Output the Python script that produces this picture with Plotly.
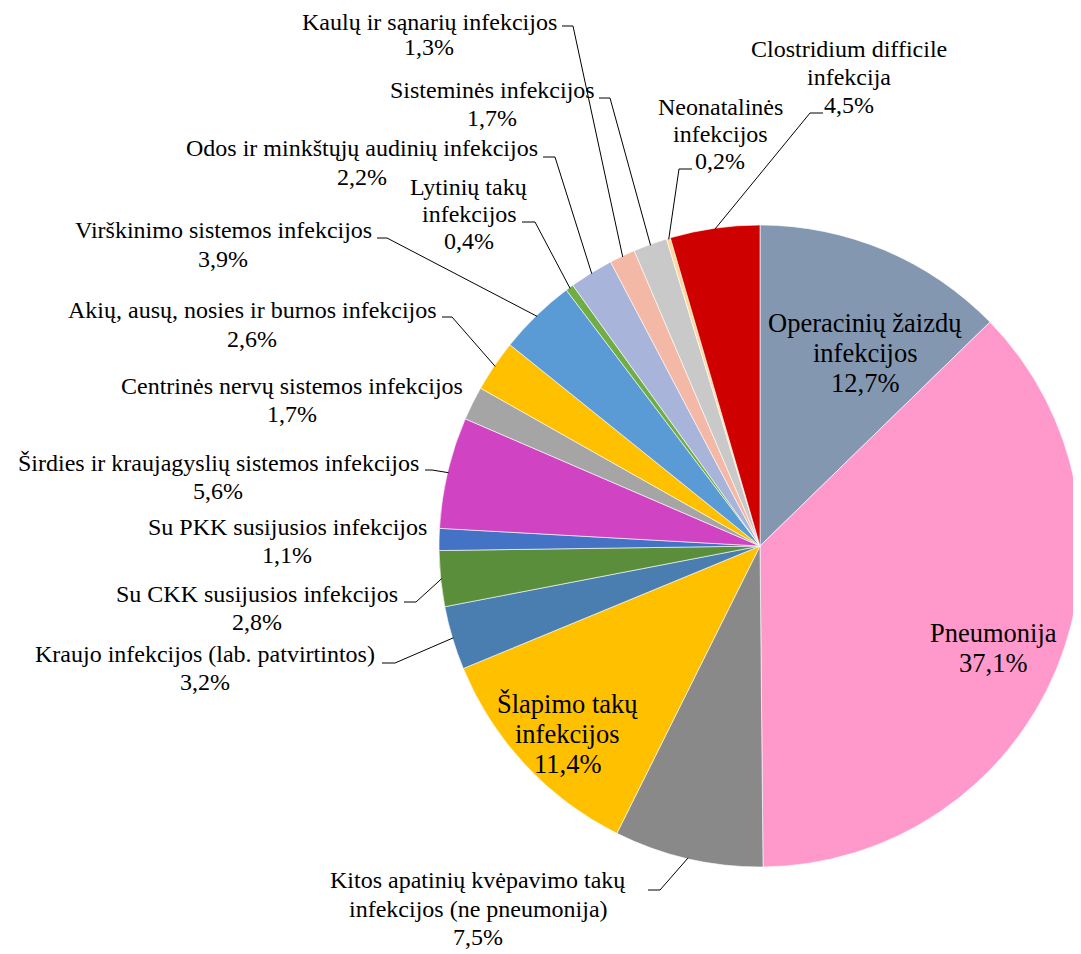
import math
import plotly.graph_objects as go

# page has an 8px body margin; figure is placed at (8, 8)
OFF = 8
W, H = 1081 - OFF, 954 - OFF

# ---------------- data ----------------
categories = [
    "Operacinių žaizdų infekcijos",
    "Pneumonija",
    "Kitos apatinių kvėpavimo takų infekcijos (ne pneumonija)",
    "Šlapimo takų infekcijos",
    "Kraujo infekcijos (lab. patvirtintos)",
    "Su CKK susijusios infekcijos",
    "Su PKK susijusios infekcijos",
    "Širdies ir kraujagyslių sistemos infekcijos",
    "Centrinės nervų sistemos infekcijos",
    "Akių, ausų, nosies ir burnos infekcijos",
    "Virškinimo sistemos infekcijos",
    "Lytinių takų infekcijos",
    "Odos ir minkštųjų audinių infekcijos",
    "Kaulų ir sąnarių infekcijos",
    "Sisteminės infekcijos",
    "Neonatalinės infekcijos",
    "Clostridium difficile infekcija",
]
values = [12.7, 37.1, 7.5, 11.4, 3.2, 2.8, 1.1, 5.6, 1.7, 2.6, 3.9, 0.4, 2.2, 1.3, 1.7, 0.2, 4.5]

# label text split into display lines (percent line is appended from values)
label_lines = [
    ["Operacinių žaizdų", "infekcijos"],
    ["Pneumonija"],
    ["Kitos apatinių kvėpavimo takų", "infekcijos (ne pneumonija)"],
    ["Šlapimo takų", "infekcijos"],
    ["Kraujo infekcijos (lab. patvirtintos)"],
    ["Su CKK susijusios infekcijos"],
    ["Su PKK susijusios infekcijos"],
    ["Širdies ir kraujagyslių sistemos infekcijos"],
    ["Centrinės nervų sistemos infekcijos"],
    ["Akių, ausų, nosies ir burnos infekcijos"],
    ["Virškinimo sistemos infekcijos"],
    ["Lytinių takų", "infekcijos"],
    ["Odos ir minkštųjų audinių infekcijos"],
    ["Kaulų ir sąnarių infekcijos"],
    ["Sisteminės infekcijos"],
    ["Neonatalinės", "infekcijos"],
    ["Clostridium difficile", "infekcija"],
]

# ---------------- styles / positions ----------------
colors = [
    "#8497B0", "#FF99CC", "#898989", "#FFC000", "#4A7EB1", "#5A8E3A",
    "#4472C4", "#D043C3", "#A5A5A5", "#FFC000", "#5B9BD5", "#70AD47",
    "#A9B4DA", "#F4B9A6", "#C9C9C9", "#FFD99B", "#CF0000",
]

# (center x px, first line center y px, line spacing px, font size) in page pixels
label_pos = [
    (865, 323, 30, 26.5),
    (993, 633, 30, 26.5),
    (478, 880, 28.5, 24),
    (568, 704, 30, 26.5),
    (205, 654, 27.5, 24),
    (257, 594, 28, 24),
    (287, 527, 27.5, 24),
    (218, 463, 28, 24),
    (292, 386, 28, 24),
    (252, 310, 29, 24),
    (223, 230, 29, 24),
    (469, 187, 27, 24),
    (362, 148, 29, 24),
    (429, 22, 25, 24),
    (492, 90, 28, 24),
    (720, 107, 27, 24),
    (849, 49, 28, 24),
]

# leader lines: (start x, y, elbow x) in page px, or None
leaders = [
    None, None,
    (648, 890, 660),
    None,
    (382, 663, 395),
    (404, 602, 416),
    None,
    (425, 470, 432),
    None,
    (442, 317, 452),
    (377, 238, 387),
    (522, 222, 535),
    (543, 157, 555),
    (562, 26, 573),
    (599, 98, 610),
    (692, 169, 679),
    (823, 113, 810),
]

# pie geometry (page pixels)
CX, CY, R = 760, 546, 321


def px(x):
    return (x - OFF) / W


def py(y):
    return 1 - (y - OFF) / H


fig = go.Figure()
fig.add_trace(go.Pie(
    labels=categories,
    values=values,
    sort=False,
    direction="clockwise",
    rotation=0,
    marker=dict(colors=colors, line=dict(color="white", width=0.6)),
    textinfo="none",
    hoverinfo="label+percent",
    showlegend=False,
    domain=dict(x=[px(CX - R), min(1.0, px(CX + R))], y=[py(CY + R), py(CY - R)]),
))

font_family = "Times New Roman, Liberation Serif, DejaVu Serif, serif"
annotations = []
shapes = []
total = sum(values)
cum = 0.0
for i, v in enumerate(values):
    mid = (cum + v / 2) / total
    cum += v
    lines = label_lines[i] + [f"{v:.1f}".replace(".", ",") + "%"]
    cx, y1, lh, fs = label_pos[i]
    for k, t in enumerate(lines):
        annotations.append(dict(
            x=px(cx), y=py(y1 + k * lh), xref="paper", yref="paper",
            text=t, showarrow=False, xanchor="center", yanchor="middle",
            font=dict(family=font_family, size=fs, color="black"),
        ))
    ld = leaders[i]
    if ld is not None:
        sx, sy, ex = ld
        th = 2 * math.pi * mid
        tx = CX + (R - 1) * math.sin(th)
        ty = CY - (R - 1) * math.cos(th)
        shapes.append(dict(type="line", xref="paper", yref="paper",
                           x0=px(sx), y0=py(sy), x1=px(ex), y1=py(sy),
                           line=dict(color="black", width=1)))
        shapes.append(dict(type="line", xref="paper", yref="paper",
                           x0=px(ex), y0=py(sy), x1=px(tx), y1=py(ty),
                           line=dict(color="black", width=1)))

fig.update_layout(
    width=W, height=H,
    margin=dict(l=0, r=0, t=0, b=0),
    paper_bgcolor="white", plot_bgcolor="white",
    font=dict(family=font_family),
    annotations=annotations, shapes=shapes,
)

fig.write_html("out.html")
